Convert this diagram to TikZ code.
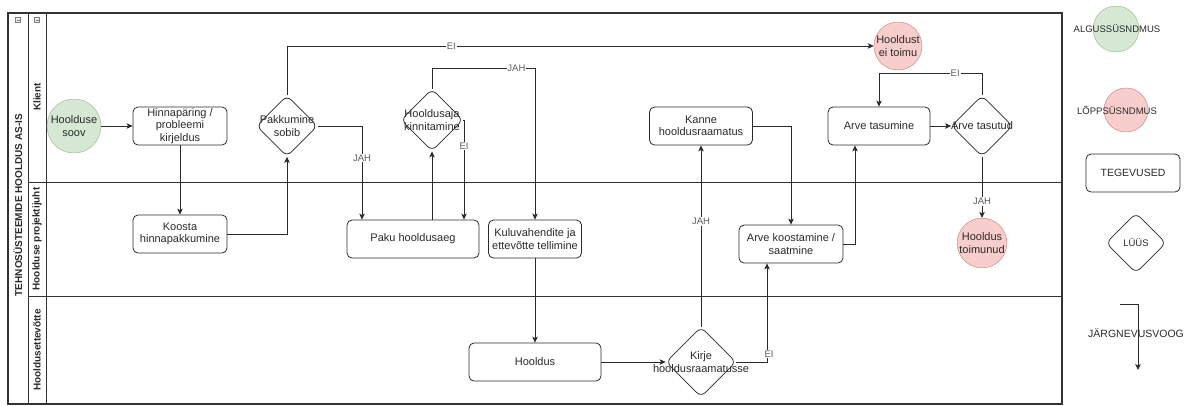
\documentclass[tikz,border=0pt]{standalone}
\usepackage{fontspec}
\setmainfont{Liberation Sans}
\usetikzlibrary{shapes.geometric,arrows.meta,calc}
\definecolor{gfill}{HTML}{D5E8D4}
\definecolor{gline}{HTML}{9CC38A}
\definecolor{rfill}{HTML}{F8CECC}
\definecolor{rline}{HTML}{D08A87}
\definecolor{ink}{HTML}{2A2A2A}
\definecolor{lane}{HTML}{333333}
\begin{document}
\begin{tikzpicture}[x=1pt,y=-1pt,
  task/.style={draw=ink, rounded corners=5pt, line width=0.8pt, minimum width=#1, minimum height=38pt,
    align=center, font=\fontsize{11}{12.5}\selectfont, inner sep=1pt, text=ink},
  task/.default=94pt,
  gate/.style={draw=ink, diamond, aspect=1, minimum width=#1, minimum height=#1, inner sep=0pt,
    rounded corners=6pt, line width=0.8pt},
  gtext/.style={align=center, font=\fontsize{11}{12.5}\selectfont, text=ink},
  event/.style={circle, minimum size=#1, inner sep=0pt, align=center, line width=0.5pt,
    font=\fontsize{11}{12.5}\selectfont, text=ink},
  flow/.style={draw=ink, line width=0.8pt, -{Stealth[length=6pt,width=5.5pt,inset=1.5pt]}},
  lbl/.style={fill=white, inner sep=0.8pt, font=\fontsize{9.5}{11}\selectfont, text=ink!75},
  legtext/.style={font=\fontsize{9.5}{11}\selectfont, text=ink},
  lanetitle/.style={rotate=90, font=\bfseries\fontsize{10}{12}\selectfont, text=ink},
  icon/.style={draw=gray, line width=0.4pt, fill=gray!15}
]
\useasboundingbox (0,0) rectangle (1189,405);
% pool and lanes
\draw[lane, line width=1.1pt] (8,13) rectangle (1062,404);
\draw[lane, line width=0.8pt] (28,13) -- (28,404);
\draw[lane, line width=0.8pt] (46,13) -- (46,404);
\draw[lane, line width=0.8pt] (28,182) -- (1062,182);
\draw[lane, line width=0.8pt] (28,296) -- (1062,296);
\draw[icon] (15.5,17.5) rectangle (20.5,22.5);
\draw[gray, line width=0.4pt] (16.5,20) -- (19.5,20);
\draw[icon] (34.5,17.5) rectangle (39.5,22.5);
\draw[gray, line width=0.4pt] (35.5,20) -- (38.5,20);
\node[lanetitle] (pooltitle) at (18,205) {TEHNOSÜSTEEMIDE HOOLDUS AS-IS};
\node[lanetitle] (lane1) at (37,97) {Klient};
\node[lanetitle] (lane2) at (37,239) {Hoolduse projektijuht};
\node[lanetitle] (lane3) at (37,350) {Hooldusettevõtte};

% nodes
\node[event=54pt, fill=gfill, draw=gline] (soov) at (74,126) {Hoolduse\\soov};
\node[task] (hinn) at (180,126) {Hinnapäring /\\probleemi\\kirjeldus};
\node[task] (koosta) at (180,234) {Koosta\\hinnapakkumine};
\node[gate=61pt, label={[gtext]center:{Pakkumine\\sobib}}] (pak) at (287,126) {};
\node[task=132pt] (paku) at (413,239) {Paku hooldusaeg};
\node[gate=62pt, label={[gtext]center:{Hooldusaja\\kinnitamine}}] (hk) at (432,120) {};
\node[task=93pt] (kul) at (535,239) {Kuluvahendite ja\\ettevõtte tellimine};
\node[task=132pt] (hooldus) at (535,362) {Hooldus};
\node[gate=70pt, label={[gtext]center:{Kirje\\hooldusraamatusse}}] (kirje) at (701,362) {};
\node[task=103pt] (kanne) at (701,126) {Kanne\\hooldusraamatus};
\node[task=104pt] (arvek) at (791,244) {Arve koostamine /\\saatmine};
\node[task=102pt] (tas) at (879,126) {Arve tasumine};
\node[gate=61pt, label={[gtext]center:{Arve tasutud}}] (tu) at (982,126) {};
\node[event=48pt, fill=rfill, draw=rline] (hei) at (898,46) {Hooldust\\ei toimu};
\node[event=48pt, fill=rfill, draw=rline] (htoim) at (982,243) {Hooldus\\toimunud};

% flows
\draw[flow] (soov) -- (hinn);
\draw[flow] (hinn) -- (koosta);
\draw[flow] (koosta.east) -| (pak.south);
\draw[flow] (pak.north) |- node[lbl, pos=0.64]{EI} (hei.west);
\draw[flow] (pak.east) -| node[lbl, pos=0.67]{JAH} ([xshift=-51pt]paku.north);
\draw[flow] (hk.south |- paku.north) -- (hk.south);
\draw[flow] (hk.east) -| node[lbl, pos=0.63]{EI} ([xshift=51pt]paku.north);
\draw[flow] (hk.north) -- ++(0,-20) -| node[lbl, pos=0.41]{JAH} (kul.north);
\draw[flow] (kul) -- (hooldus);
\draw[flow] (hooldus) -- (kirje.west);
\draw[flow] (kirje.north) -- node[lbl, pos=0.58]{JAH} (kanne.south);
\draw[flow] (kirje.east) -| node[lbl, pos=0.54, xshift=2pt]{EI} ([xshift=-24pt]arvek.south);
\draw[flow] (kanne.east) -| (arvek.north);
\draw[flow] (arvek.east) -| ([xshift=-24pt]tas.south);
\draw[flow] (tas) -- (tu.west);
\draw[flow] (tu.north) -- ++(0,-22) -| node[lbl, pos=0.13]{EI} (tas.north);
\draw[flow] (tu.south) -- node[lbl, pos=0.73]{JAH} (htoim.north);

% legend
\node[circle, minimum size=46pt, fill=gfill, draw=gline, line width=0.5pt] (lg1) at (1116,29) {};
\node[legtext] (lg1t) at (1117,29) {ALGUSSÜSNDMUS};
\node[circle, minimum size=44pt, fill=rfill, draw=rline, line width=0.5pt] (lg2) at (1126,110) {};
\node[legtext] (lg2t) at (1117,110) {LÕPPSÜSNDMUS};
\node[task=94pt, font=\fontsize{10.5}{12}\selectfont] (lg3) at (1133,173) {TEGEVUSED};
\node[gate=60pt, label={[legtext]center:{LÜÜS}}] (lg4) at (1136,243) {};
\coordinate (lg5a) at (1120,304);
\coordinate (lg5b) at (1138,370);
\draw[flow] (lg5a) -| (lg5b);
\node[font=\fontsize{10.5}{12}\selectfont, text=ink] (lg5t) at (1136,333) {JÄRGNEVUSVOOG};
\end{tikzpicture}
\end{document}
